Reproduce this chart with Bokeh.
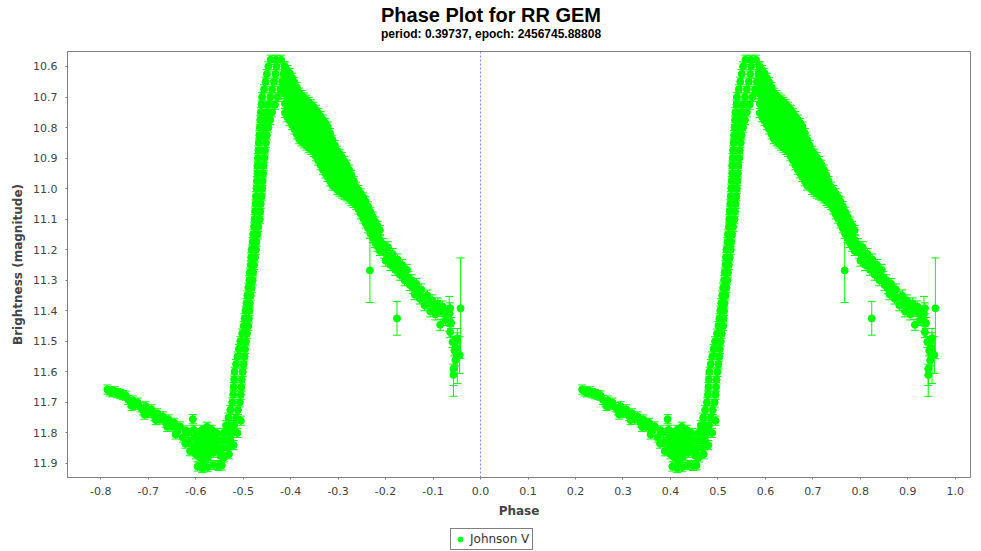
from bokeh.plotting import figure
from bokeh.layouts import column
from bokeh.models import (ColumnDataSource, Range1d, FixedTicker, NumeralTickFormatter,
                          Whisker, TeeHead, Span, Label, Legend, LegendItem)
from bokeh.embed import file_html
from bokeh.resources import INLINE

TITLE = "Phase Plot for RR GEM"
SUBTITLE = "period: 0.39737, epoch: 2456745.88808"
SERIES = "Johnson V"
X_LABEL = "Phase"
Y_LABEL = "Brightness (magnitude)"
X_TICKS = [-0.8, -0.7, -0.6, -0.5, -0.4, -0.3, -0.2, -0.1, 0.0,
           0.1, 0.2, 0.3, 0.4, 0.5, 0.6, 0.7, 0.8, 0.9, 1.0]
Y_TICKS = [10.6, 10.7, 10.8, 10.9, 11.0, 11.1, 11.2, 11.3, 11.4, 11.5, 11.6, 11.7, 11.8, 11.9]

LEFT_TAIL = [(-0.786, 11.658), (-0.781, 11.664), (-0.776, 11.667), (-0.770, 11.664), (-0.765, 11.670),
             (-0.759, 11.673), (-0.753, 11.676), (-0.747, 11.678), (-0.742, 11.692), (-0.737, 11.700),
             (-0.732, 11.694), (-0.727, 11.708), (-0.722, 11.701), (-0.716, 11.716), (-0.711, 11.726),
             (-0.705, 11.713), (-0.699, 11.735), (-0.693, 11.723), (-0.687, 11.745), (-0.681, 11.736),
             (-0.675, 11.756), (-0.669, 11.746), (-0.663, 11.766), (-0.657, 11.756), (-0.651, 11.779),
             (-0.645, 11.767), (-0.639, 11.795), (-0.633, 11.779), (-0.627, 11.815), (-0.621, 11.792),
             (-0.622, 11.835), (-0.735, 11.712), (-0.708, 11.740), (-0.684, 11.758), (-0.660, 11.780),
             (-0.642, 11.805)]

MINIMUM = [(-0.616, 11.800), (-0.614, 11.830), (-0.612, 11.860),
           (-0.606, 11.755), (-0.604, 11.790), (-0.603, 11.815), (-0.602, 11.845), (-0.600, 11.870),
           (-0.595, 11.800), (-0.594, 11.830), (-0.593, 11.855), (-0.592, 11.880), (-0.596, 11.910),
           (-0.586, 11.790), (-0.585, 11.815), (-0.584, 11.840), (-0.583, 11.865), (-0.584, 11.890),
           (-0.586, 11.915), (-0.576, 11.780), (-0.575, 11.805), (-0.574, 11.830), (-0.573, 11.855),
           (-0.574, 11.880), (-0.575, 11.912), (-0.566, 11.790), (-0.565, 11.815), (-0.564, 11.840),
           (-0.563, 11.865), (-0.563, 11.905), (-0.556, 11.800), (-0.555, 11.825), (-0.554, 11.850),
           (-0.552, 11.908), (-0.545, 11.906), (-0.548, 11.875), (-0.540, 11.880), (-0.530, 11.870),
           (-0.520, 11.840), (-0.512, 11.800), (-0.505, 11.760)]

# rising branch: magnitude -> phases across the band
RISE_ROWS = [
    (11.850, [-0.555, -0.543, -0.532]), (11.825, [-0.548, -0.537, -0.527]),
    (11.800, [-0.541, -0.531, -0.522]), (11.775, [-0.536, -0.527, -0.519]),
    (11.750, [-0.531, -0.515]), (11.725, [-0.527, -0.511]), (11.700, [-0.523, -0.507]),
    (11.675, [-0.521, -0.505]), (11.650, [-0.520, -0.504]), (11.625, [-0.519, -0.503]),
    (11.600, [-0.518, -0.501]), (11.575, [-0.515, -0.499]), (11.550, [-0.512, -0.497]),
    (11.525, [-0.509, -0.496]), (11.500, [-0.506, -0.494]), (11.475, [-0.502, -0.492]),
    (11.450, [-0.499, -0.489]), (11.425, [-0.497, -0.488]), (11.400, [-0.495, -0.487]),
    (11.375, [-0.493, -0.486]), (11.350, [-0.491, -0.484]), (11.325, [-0.489, -0.482]),
    (11.300, [-0.487, -0.480]), (11.275, [-0.486, -0.479]), (11.250, [-0.484, -0.477]),
    (11.225, [-0.483, -0.475]), (11.200, [-0.482, -0.473]), (11.175, [-0.480, -0.472]),
    (11.150, [-0.479, -0.470]), (11.125, [-0.477, -0.468]), (11.100, [-0.476, -0.465]),
    (11.075, [-0.475, -0.464]), (11.050, [-0.474, -0.463]), (11.025, [-0.473, -0.461]),
    (11.000, [-0.472, -0.460]), (10.975, [-0.471, -0.459]), (10.950, [-0.470, -0.458]),
    (10.925, [-0.470, -0.457]), (10.900, [-0.469, -0.455]), (10.875, [-0.468, -0.454]),
    (10.850, [-0.467, -0.452]), (10.825, [-0.466, -0.458, -0.450]),
    (10.800, [-0.465, -0.456, -0.447]), (10.775, [-0.464, -0.453, -0.443]),
    (10.750, [-0.463, -0.451, -0.439]), (10.725, [-0.461, -0.447, -0.433]),
    (10.700, [-0.460, -0.443, -0.427]), (10.675, [-0.456, -0.439, -0.422]),
    (10.650, [-0.453, -0.435, -0.418]), (10.625, [-0.450, -0.432, -0.415]),
    (10.600, [-0.447, -0.430, -0.413]), (10.578, [-0.442, -0.431, -0.420]),
]

# descending branch: phase -> magnitudes across the band
DESC_COLS = [
    (-0.412, [10.600, 10.630, 10.662, 10.690, 10.722, 10.752]),
    (-0.402, [10.622, 10.655, 10.684, 10.716, 10.746, 10.778]),
    (-0.392, [10.652, 10.683, 10.714, 10.744, 10.776, 10.806]),
    (-0.382, [10.686, 10.718, 10.748, 10.779, 10.810, 10.838]),
    (-0.372, [10.702, 10.734, 10.764, 10.795, 10.824, 10.852]),
    (-0.362, [10.716, 10.748, 10.779, 10.810, 10.840, 10.866]),
    (-0.352, [10.732, 10.763, 10.795, 10.826, 10.855, 10.880]),
    (-0.342, [10.752, 10.784, 10.815, 10.846, 10.876, 10.908]),
    (-0.332, [10.774, 10.806, 10.837, 10.868, 10.898, 10.938]),
    (-0.322, [10.797, 10.829, 10.860, 10.891, 10.922, 10.962]),
    (-0.312, [10.840, 10.872, 10.904, 10.935, 10.964, 10.990]),
    (-0.302, [10.876, 10.908, 10.940, 10.971, 11.004]),
    (-0.292, [10.897, 10.929, 10.960, 10.991, 11.016]),
    (-0.282, [10.922, 10.954, 10.986, 11.025]),
    (-0.272, [10.955, 10.988, 11.014, 11.040]),
    (-0.262, [10.994, 11.024, 11.054]),
    (-0.252, [11.016, 11.048, 11.084]),
    (-0.242, [11.042, 11.074, 11.114]),
    (-0.232, [11.076, 11.108, 11.148]),
    (-0.222, [11.108, 11.140, 11.178]),
    (-0.212, [11.136, 11.168, 11.204]),
    (-0.407, [10.612, 10.643, 10.675, 10.705, 10.735, 10.766]),
    (-0.397, [10.637, 10.670, 10.700, 10.730, 10.762, 10.792]),
    (-0.387, [10.668, 10.700, 10.731, 10.762, 10.793, 10.822]),
    (-0.377, [10.694, 10.726, 10.756, 10.787, 10.817, 10.845]),
    (-0.367, [10.709, 10.741, 10.772, 10.803, 10.832, 10.859]),
    (-0.357, [10.724, 10.756, 10.787, 10.818, 10.848, 10.873]),
    (-0.347, [10.742, 10.774, 10.805, 10.836, 10.866, 10.894]),
    (-0.337, [10.763, 10.795, 10.826, 10.857, 10.887, 10.923]),
    (-0.327, [10.785, 10.817, 10.848, 10.879, 10.910, 10.950]),
    (-0.317, [10.818, 10.850, 10.882, 10.913, 10.943, 10.976]),
    (-0.307, [10.858, 10.890, 10.922, 10.953, 10.985]),
    (-0.297, [10.886, 10.918, 10.950, 10.981, 11.010]),
    (-0.287, [10.910, 10.941, 10.973, 11.005, 11.020]),
    (-0.277, [10.938, 10.970, 11.000, 11.032]),
    (-0.267, [10.975, 11.006, 11.034, 11.047]),
    (-0.257, [11.005, 11.036, 11.068]),
    (-0.247, [11.029, 11.061, 11.098]),
    (-0.237, [11.058, 11.091, 11.130]),
    (-0.227, [11.092, 11.124, 11.162]),
    (-0.217, [11.122, 11.154, 11.190]),
]

LATE_TAIL = [(-0.205, 11.182), (-0.203, 11.210), (-0.200, 11.236), (-0.195, 11.192), (-0.193, 11.220),
             (-0.190, 11.250), (-0.185, 11.214), (-0.183, 11.240), (-0.180, 11.266), (-0.175, 11.232),
             (-0.172, 11.256), (-0.170, 11.282), (-0.165, 11.250), (-0.162, 11.276), (-0.160, 11.300),
             (-0.155, 11.266), (-0.152, 11.290), (-0.149, 11.316), (-0.145, 11.300), (-0.142, 11.326),
             (-0.139, 11.346), (-0.135, 11.312), (-0.132, 11.340), (-0.128, 11.360), (-0.125, 11.330),
             (-0.122, 11.356), (-0.118, 11.382), (-0.112, 11.350), (-0.110, 11.376), (-0.106, 11.402),
             (-0.102, 11.366), (-0.098, 11.386), (-0.095, 11.412), (-0.090, 11.376), (-0.087, 11.400),
             (-0.085, 11.446), (-0.080, 11.386), (-0.077, 11.410), (-0.074, 11.430), (-0.070, 11.402),
             (-0.067, 11.426), (-0.064, 11.392), (-0.062, 11.440), (-0.064, 11.470), (-0.059, 11.502),
             (-0.055, 11.530), (-0.053, 11.562), (-0.051, 11.522), (-0.049, 11.490)]

# isolated points with large error bars: (phase, magnitude, error)
WIDE_ERR = [(-0.233, 11.268, 0.105), (-0.176, 11.425, 0.055), (-0.042, 11.392, 0.165),
            (-0.057, 11.590, 0.090), (-0.049, 11.548, 0.090), (-0.057, 11.610, 0.035),
            (-0.066, 11.410, 0.057), (-0.044, 11.545, 0.060), (-0.245, 11.060, 0.035)]

BAND_ERR = 0.015
TAIL_ERR = 0.018

# ---- assemble observations ----
obs = []
obs += [(ph, m, BAND_ERR) for ph, m in LEFT_TAIL]
obs += [(ph, m, BAND_ERR) for ph, m in MINIMUM]
for m, phs in RISE_ROWS:
    obs += [(ph, m, BAND_ERR) for ph in phs]
for ph, ms in DESC_COLS:
    obs += [(ph, m, BAND_ERR) for m in ms]
obs += [(ph, m, TAIL_ERR) for ph, m in LATE_TAIL]
obs += WIDE_ERR

# the phase plot shows two cycles: phase and phase + 1
xs, ys, up, lo = [], [], [], []
for cycle in (0.0, 1.0):
    for ph, m, e in obs:
        xs.append(ph + cycle)
        ys.append(m)
        up.append(m + e)
        lo.append(m - e)
src = ColumnDataSource(dict(x=xs, y=ys, upper=up, lower=lo))

GREEN = "#00ff00"
GRAY = "#808080"
TXT = "#444444"


def blank_strip(h):
    f = figure(width=981, height=h, output_backend="svg", toolbar_location=None,
               x_axis_location=None, y_axis_location=None, min_border=0,
               x_range=Range1d(0, 903), y_range=Range1d(0, h))
    f.outline_line_color = None
    f.background_fill_color = "white"
    f.border_fill_color = "white"
    f.xgrid.visible = False
    f.ygrid.visible = False
    return f


# header strip with title and subtitle (frame aligned with the chart's frame)
hd = blank_strip(50)
hd.add_layout(Label(x=423.5, y=36, text=TITLE, text_font="Liberation Sans",
                    text_font_size="20px", text_font_style="bold", text_color="black",
                    text_align="center", text_baseline="alphabetic"))
hd.add_layout(Label(x=423.5, y=17, text=SUBTITLE, text_font="Liberation Sans",
                    text_font_size="12px", text_font_style="bold", text_color="black",
                    text_align="center", text_baseline="alphabetic"))

p = figure(width=981, height=476, output_backend="svg", toolbar_location=None,
           x_range=Range1d(-0.870, 1.032), y_range=Range1d(11.946, 10.551),
           min_border_left=67, min_border_right=11,
           min_border_top=1, min_border_bottom=49)
p.background_fill_color = "white"
p.border_fill_color = "white"
p.outline_line_color = GRAY
p.outline_line_width = 1
p.xgrid.visible = False
p.ygrid.visible = False

for ax in (p.xaxis[0], p.yaxis[0]):
    ax.axis_line_color = GRAY
    ax.major_tick_line_color = GRAY
    ax.major_tick_out = 2
    ax.major_tick_in = 0
    ax.minor_tick_line_color = None
    ax.major_label_text_font = "DejaVu Sans"
    ax.major_label_text_font_size = "11px"
    ax.major_label_text_color = TXT
    ax.axis_label_text_font = "DejaVu Sans"
    ax.axis_label_text_font_size = "12px"
    ax.axis_label_text_font_style = "bold"
    ax.axis_label_text_color = TXT
    ax.formatter = NumeralTickFormatter(format="0.0")

p.xaxis.ticker = FixedTicker(ticks=X_TICKS)
p.yaxis.ticker = FixedTicker(ticks=Y_TICKS)
p.xaxis.axis_label = X_LABEL
p.yaxis.axis_label = Y_LABEL
p.xaxis.major_label_standoff = 7
p.xaxis.axis_label_standoff = 6
p.yaxis.major_label_standoff = 8

p.add_layout(Span(location=0.0, dimension="height", line_color="#8080ff",
                  line_width=1, line_dash="2 2"))

whisk = Whisker(source=src, base="x", upper="upper", lower="lower", dimension="height",
                line_color=GREEN, line_width=1,
                upper_head=TeeHead(size=8, line_color=GREEN, line_width=1),
                lower_head=TeeHead(size=8, line_color=GREEN, line_width=1))
p.add_layout(whisk)
r = p.scatter("x", "y", source=src, marker="circle", size=7,
              fill_color=GREEN, line_color=GREEN)

# legend strip under the chart
lf = blank_strip(25)
r2 = lf.scatter(x=[-50], y=[-50], marker="circle", size=7, fill_color=GREEN, line_color=GREEN)
legend = Legend(items=[LegendItem(label=SERIES, renderers=[r2])], location=(383, 1),
                orientation="horizontal", border_line_color="black", border_line_width=1,
                background_fill_color="white", label_text_font="DejaVu Sans",
                label_text_font_size="12px", label_text_color="#333333",
                padding=3, margin=0, glyph_width=12, glyph_height=12,
                label_standoff=4, spacing=0)
lf.add_layout(legend, "center")

open("out.html", "w").write(file_html(column(hd, p, lf, spacing=0), INLINE))
